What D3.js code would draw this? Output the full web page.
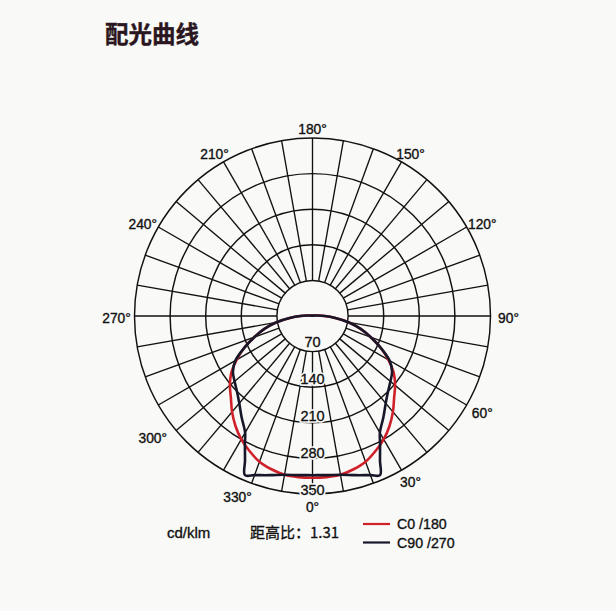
<!DOCTYPE html>
<html>
<head>
<meta charset="utf-8">
<script src="https://cdn.jsdelivr.net/npm/d3@7"></script>
<style>
  html, body { margin: 0; padding: 0; background: #f9f9f7; }
  svg { display: block; }
</style>
</head>
<body>
<svg id="chart" width="616" height="611"></svg>
<script>
// ---- data ----
const title = "配光曲线";
const unitLabel = "cd/klm";
const ratioLabel = "距高比：1.31";
const ringValues = [70, 140, 210, 280, 350];
const angleLabels = [0, 30, 60, 90, 120, 150, 180, 210, 240, 270, 300, 330];
const spokeAngles = d3.range(0, 360, 10);
const seriesNames = ["C0 /180", "C90 /270"];

const gammaC0 = [0, 5, 10, 15, 20, 25, 30, 35, 40, 45, 50, 55, 60, 65, 70, 75, 80, 85, 90, 95, 100, 110, 120, 140, 160, 180];
const valuesC0 = [318, 318, 317, 312, 305, 293, 280, 264, 246, 227, 212, 195, 172, 148, 122, 98, 73, 45, 24, 10, 5, 2, 1, 1, 1, 1];

const gammaC90 = [0, 5, 10, 15, 20, 23, 25, 28, 30, 35, 40, 45, 50, 55, 60, 65, 70, 75, 80, 85, 90, 95, 100, 110, 120, 140, 160, 180];
const valuesC90 = [313, 314, 317, 324, 333, 340, 314, 283, 265, 243, 224, 210, 200, 191, 175, 148, 122, 98, 73, 45, 24, 10, 5, 2, 1, 1, 1, 1];

// ---- layout ----
const cx = 312.5, cy = 316, R = 178;
const colors = { c0: "#d0202a", c90: "#17172a", grid: "#111111", text: "#111111", title: "#2a1620", bg: "#f9f9f7" };
const labelNudge = { 300: [10, 25], 330: [23, 15] };
const fontLatin = "Liberation Sans, Arial, sans-serif";

const svg = d3.select("#chart");
const r = d3.scaleLinear().domain([0, 350]).range([0, R]);
const rad = d => d * Math.PI / 180;
const g = svg.append("g").attr("transform", `translate(${cx},${cy})`);

// rings
g.selectAll("circle.ring").data(ringValues).join("circle")
  .attr("class", "ring").attr("r", d => r(d))
  .attr("fill", "none").attr("stroke", colors.grid).attr("stroke-width", 1.45);

// spokes (from inner ring to outer)
g.selectAll("line.spoke").data(spokeAngles).join("line")
  .attr("x1", a => r(ringValues[0]) * Math.sin(rad(a)))
  .attr("y1", a => r(ringValues[0]) * Math.cos(rad(a)))
  .attr("x2", a => r(350) * Math.sin(rad(a)))
  .attr("y2", a => r(350) * Math.cos(rad(a)))
  .attr("stroke", colors.grid).attr("stroke-width", 1.35);

// curves: gamma measured from nadir; right side a = PI - g, left side a = PI + g
function closedPoints(gam, vals) {
  const left = gam.map((d, i) => [Math.PI + rad(d), vals[i]]).reverse();
  const right = gam.map((d, i) => [Math.PI - rad(d), vals[i]]);
  return left.concat(right.slice(1));
}
const line = d3.lineRadial()
  .angle(d => d[0]).radius(d => r(d[1]))
  .curve(d3.curveCatmullRomClosed.alpha(0.5));

g.append("path").datum(closedPoints(gammaC0, valuesC0))
  .attr("d", line).attr("fill", "none")
  .attr("stroke", colors.c0).attr("stroke-width", 2.6).attr("stroke-linejoin", "round");
g.append("path").datum(closedPoints(gammaC90, valuesC90))
  .attr("d", line).attr("fill", "none")
  .attr("stroke", colors.c90).attr("stroke-width", 2.6).attr("stroke-linejoin", "round");

// ring value labels along 0° (halo layer, then ink layer)
const ringY = d => r(d) * 1.04 - 6;
g.selectAll("text.rvh").data(ringValues).join("text")
  .attr("x", 0).attr("y", ringY).attr("text-anchor", "middle")
  .attr("font-family", fontLatin).attr("font-size", 14.5)
  .attr("fill", colors.bg).attr("stroke", colors.bg).attr("stroke-width", 3.5)
  .text(d => d);
g.selectAll("text.rv").data(ringValues).join("text")
  .attr("x", 0).attr("y", ringY).attr("text-anchor", "middle")
  .attr("font-family", fontLatin).attr("font-size", 14.5)
  .attr("fill", colors.text).attr("stroke", colors.text).attr("stroke-width", 0.35)
  .text(d => d);

// angle labels
g.selectAll("text.al").data(angleLabels).join("text")
  .attr("x", a => 196 * Math.sin(rad(a)) + (labelNudge[a] ? labelNudge[a][0] : 0))
  .attr("y", a => 189 * Math.cos(rad(a)) + 2.5 + (labelNudge[a] ? labelNudge[a][1] : 0))
  .attr("text-anchor", "middle").attr("dominant-baseline", "central")
  .attr("font-family", fontLatin)
  .attr("font-size", 13.8).attr("fill", colors.text)
  .attr("stroke", colors.text).attr("stroke-width", 0.35)
  .text(a => a + "°");

// title
svg.append("text").attr("x", 105).attr("y", 43)
  .attr("font-family", "Noto Sans CJK SC, sans-serif").attr("font-weight", "bold")
  .attr("font-size", 23.5).attr("fill", colors.title)
  .attr("stroke", colors.title).attr("stroke-width", 0.4).text(title);

// bottom texts
svg.append("text").attr("x", 167).attr("y", 538)
  .attr("font-family", fontLatin).attr("font-size", 15)
  .attr("fill", colors.text).attr("stroke", colors.text).attr("stroke-width", 0.35).text(unitLabel);
svg.append("text").attr("x", 250).attr("y", 538)
  .attr("font-family", "Noto Sans CJK SC, Liberation Sans, sans-serif").attr("font-size", 15)
  .attr("fill", colors.text).attr("stroke", colors.text).attr("stroke-width", 0.3).text(ratioLabel);

// legend
const legend = svg.append("g").attr("transform", "translate(363,524)");
const legColors = [colors.c0, colors.c90];
legend.selectAll("line").data(seriesNames).join("line")
  .attr("x1", 0).attr("x2", 27)
  .attr("y1", (d, i) => i * 18.5).attr("y2", (d, i) => i * 18.5)
  .attr("stroke", (d, i) => legColors[i]).attr("stroke-width", 2.2);
legend.selectAll("text").data(seriesNames).join("text")
  .attr("x", 34).attr("y", (d, i) => i * 18.5 + 5)
  .attr("font-family", fontLatin).attr("font-size", 14.2)
  .attr("fill", colors.text).attr("stroke", colors.text).attr("stroke-width", 0.35)
  .text(d => d);
</script>
</body>
</html>
